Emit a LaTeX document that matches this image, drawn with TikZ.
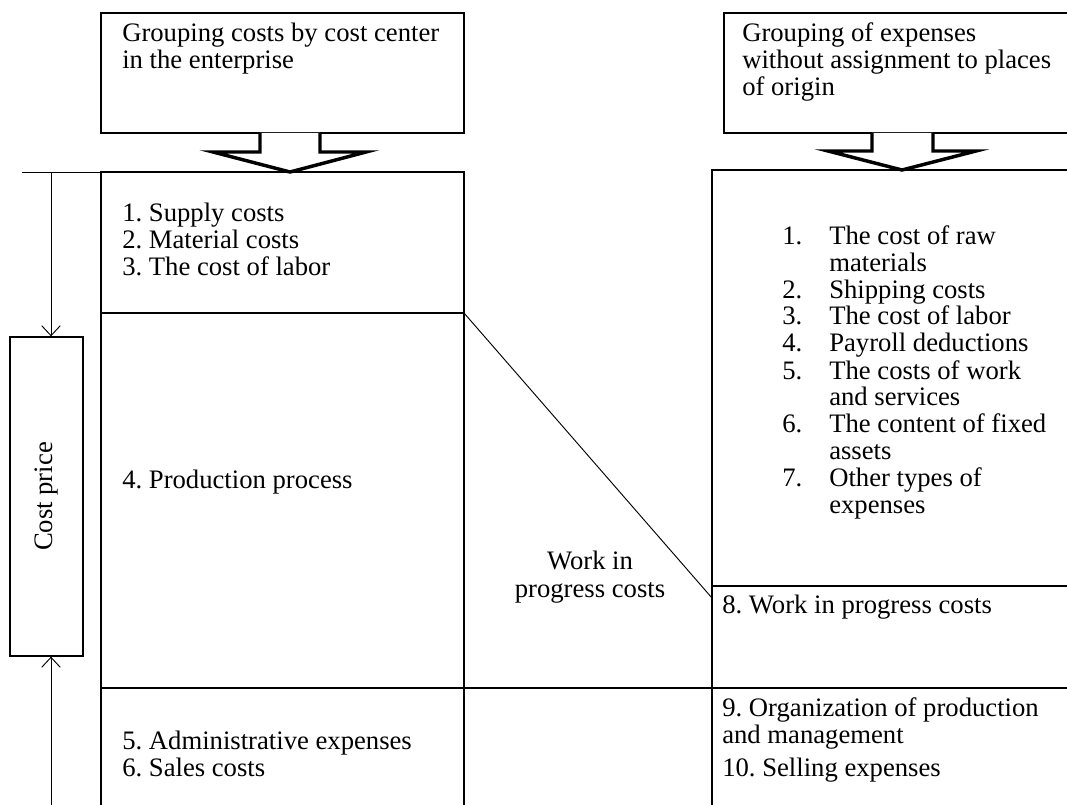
\documentclass[tikz,border=0pt]{standalone}
\usepackage{fontspec}
\setmainfont{Liberation Serif}
\usepackage{tikz}
\usetikzlibrary{arrows.meta}
\frenchspacing

\tikzset{
  txt/.style={anchor=base west,inner sep=0pt,font=\fontsize{20}{24}\selectfont},
  ctxt/.style={anchor=base,inner sep=0pt,font=\fontsize{20}{24}\selectfont},
  frame/.style={line width=1pt},
  thin/.style={line width=0.7pt},
  blockarrow/.style={line width=2.6pt,fill=white,line join=miter},
}

\begin{document}
\begin{tikzpicture}[x=0.75pt,y=-0.75pt,>={Straight Barb[length=7.5pt,width=14pt]}]
\clip (0,0) rectangle (1067,805);
% upper boxes
\draw[frame] (101,13) rectangle (464,133);
\draw[frame] (724,13) rectangle (1090,133);
\node[txt] (grpL1) at (122,42) {Grouping costs by cost center};
\node[txt] (grpL2) at (122,69) {in the enterprise};
\node[txt] (grpR1) at (742,42) {Grouping of expenses};
\node[txt] (grpR2) at (742,69) {without assignment to places};
\node[txt] (grpR3) at (742,96) {of origin};
% block arrows
\draw[blockarrow] (260,133) -- (260,152) -- (213,152) -- (290,172) -- (366,152) -- (320,152) -- (320,133);
\draw[blockarrow] (872,133) -- (872,151) -- (828,151) -- (902,170) -- (976,151) -- (933,151) -- (933,133);
% left column
\draw[frame] (101,810) -- (101,172) -- (464,172) -- (464,810);
\draw[frame] (101,313) -- (464,313);
\draw[frame] (101,688) -- (1090,688);
% right column
\draw[frame] (712,810) -- (712,170) -- (1090,170);
\draw[frame] (712,586) -- (1090,586);
% work in progress link
\coordinate (wipA) at (464,313);
\coordinate (wipB) at (712,598);
\draw[thin] (wipA) -- (wipB);
\node[ctxt] (wip1) at (590,569) {Work in};
\node[ctxt] (wip2) at (590,597) {progress costs};
% cost price bracket
\coordinate (bTop) at (51,172);
\coordinate (bBot) at (51,810);
\draw[thin] (22,172) -- (101,172);
\node[draw,frame,minimum width=54.75pt,minimum height=239.25pt,inner sep=0pt] (cost) at (46.5,496.5) {};
\node[rotate=90,font=\fontsize{20}{24}\selectfont] (costlbl) at (cost.center) {Cost price};
\draw[thin,->] (bTop) -- (bTop|-cost.north);
\draw[thin,->] (bBot) -- (bBot|-cost.south);
% left texts
\node[txt] (l1) at (122,222) {1. Supply costs};
\node[txt] (l2) at (122,249) {2. Material costs};
\node[txt] (l3) at (122,276) {3. The cost of labor};
\node[txt] (l4) at (122,488) {4. Production process};
\node[txt] (l5) at (122,749) {5. Administrative expenses};
\node[txt] (l6) at (122,776) {6. Sales costs};
% right texts
\node[txt] (n1) at (782,245) {1.};
\node[txt] (r1) at (829,245) {The cost of raw};
\node[txt] (r1b) at (829,272) {materials};
\node[txt] (n2) at (782,299) {2.};
\node[txt] (r2) at (829,299) {Shipping costs};
\node[txt] (n3) at (782,325) {3.};
\node[txt] (r3) at (829,325) {The cost of labor};
\node[txt] (n4) at (782,352) {4.};
\node[txt] (r4) at (829,352) {Payroll deductions};
\node[txt] (n5) at (782,379) {5.};
\node[txt] (r5) at (829,379) {The costs of work};
\node[txt] (r5b) at (829,406) {and services};
\node[txt] (n6) at (782,432) {6.};
\node[txt] (r6) at (829,432) {The content of fixed};
\node[txt] (r6b) at (829,459) {assets};
\node[txt] (n7) at (782,486) {7.};
\node[txt] (r7) at (829,486) {Other types of};
\node[txt] (r7b) at (829,513) {expenses};
\node[txt] (r8) at (722,613) {8. Work in progress costs};
\node[txt] (r9) at (722,716) {9. Organization of production};
\node[txt] (r9b) at (722,743) {and management};
\node[txt] (r10) at (722,776) {10. Selling expenses};
\end{tikzpicture}
\end{document}
